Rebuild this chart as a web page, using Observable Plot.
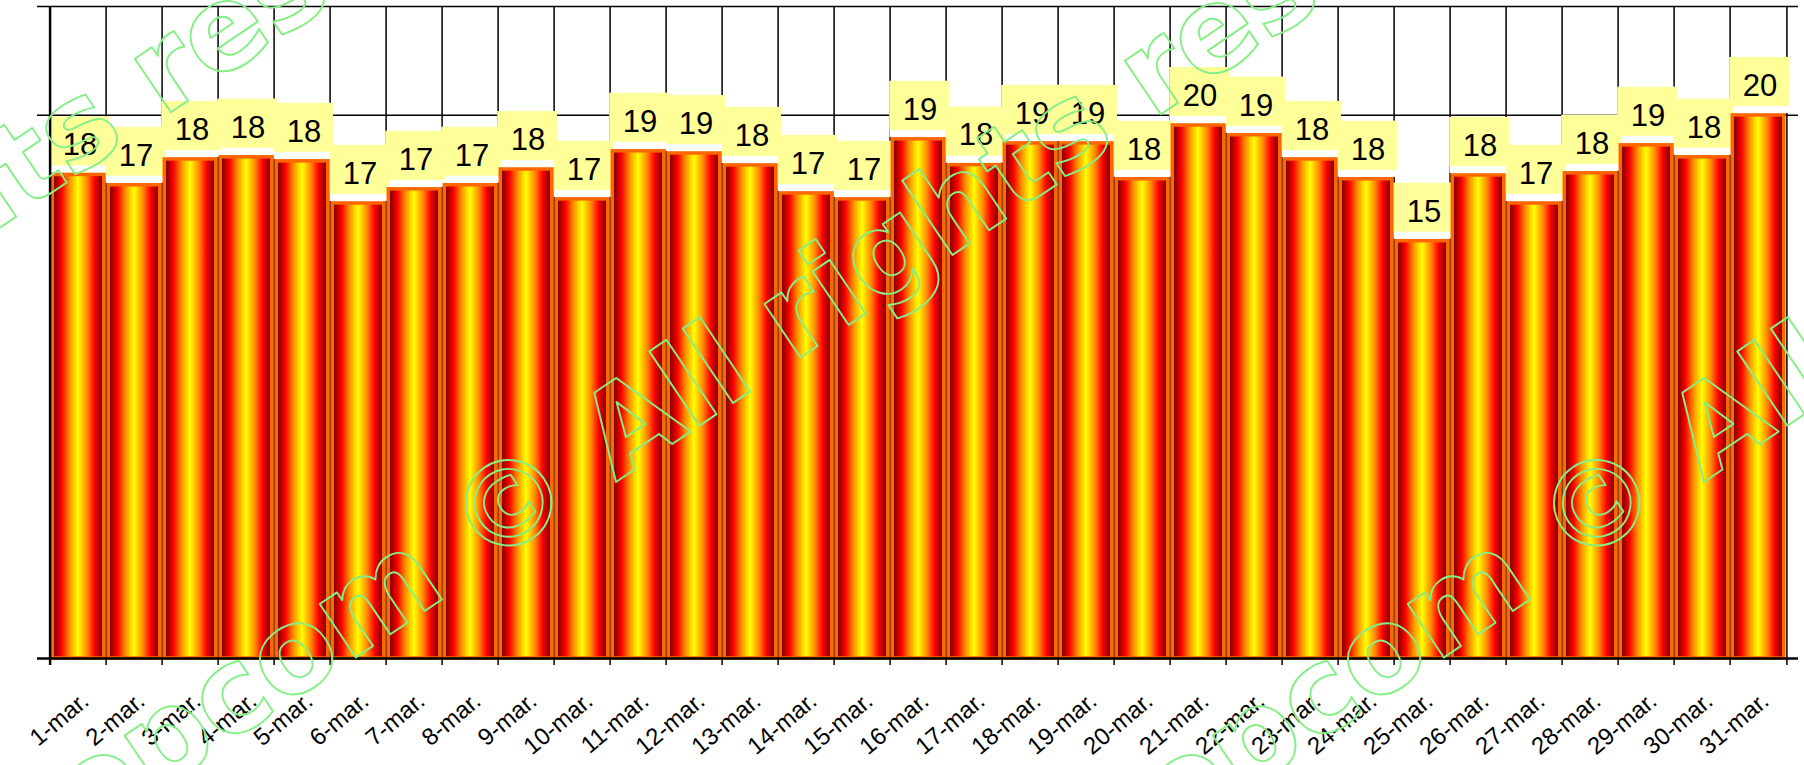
<!DOCTYPE html>
<html><head><meta charset="utf-8">
<script src="https://cdn.jsdelivr.net/npm/d3@7"></script>
<script src="https://cdn.jsdelivr.net/npm/@observablehq/plot@0.6"></script>
<style>html,body{margin:0;padding:0;background:#fff;overflow:hidden}</style>
</head><body><div id="chart"></div>
<script>
const days = ["1-mar.","2-mar.","3-mar.","4-mar.","5-mar.","6-mar.","7-mar.","8-mar.","9-mar.","10-mar.",
  "11-mar.","12-mar.","13-mar.","14-mar.","15-mar.","16-mar.","17-mar.","18-mar.","19-mar.","20-mar.",
  "21-mar.","22-mar.","23-mar.","24-mar.","25-mar.","26-mar.","27-mar.","28-mar.","29-mar.","30-mar.","31-mar."];
const temps = [17.80, 17.42, 18.37, 18.45, 18.30, 16.75, 17.27, 17.42, 18.00, 16.90,
  18.67, 18.59, 18.15, 17.12, 16.90, 19.11, 18.16, 18.96, 18.96, 17.64,
  19.62, 19.26, 18.37, 17.64, 15.36, 17.78, 16.75, 17.86, 18.89, 18.45, 19.99];
const labels = [18,17,18,18,18,17,17,17,18,17,19,19,18,17,17,19,18,19,19,18,20,19,18,18,15,18,17,18,19,18,20];
const yGrid = [20, 24];
const wmParts = ["opcom", "©", "All rights reserved"];

const data = days.map((d, i) => ({day: d, value: temps[i], label: labels[i]}));
const W = 1804, H = 765, mL = 37, mR = 6, mT = 6, mB = 107;
const bw = (W - mL - mR) / days.length;
const last = days[days.length - 1];

// watermark: rotated outline text, placed by the centre of its © sign (pixel layout)
const ang = 34 * Math.PI / 180;
const dir = [Math.cos(ang), -Math.sin(ang)];
const FS = 118;
const wmStyle = {frameAnchor: "top-left", lineAnchor: "middle", rotate: -34, fontSize: FS, fontWeight: "bold",
  fontFamily: "DejaVu Sans", fill: "none", stroke: "#86EE86", strokeWidth: 1.9};
function wm(cx, cy) {
  const ax = cx + 0.025 * FS, ay = cy + 0.037 * FS, g = 0.848 * FS;
  return [
    Plot.text([wmParts[0]], {...wmStyle, text: d => d, textAnchor: "end", dx: ax - g * dir[0] - mL, dy: ay - g * dir[1] - mT}),
    Plot.text([wmParts[1]], {...wmStyle, text: d => d, textAnchor: "middle", dx: ax - mL, dy: ay - mT}),
    Plot.text([wmParts[2]], {...wmStyle, text: d => d, textAnchor: "start", dx: ax + g * dir[0] - mL, dy: ay + g * dir[1] - mT})
  ];
}

const plot = Plot.plot({
  width: W, height: H,
  marginLeft: mL, marginRight: mR, marginTop: mT, marginBottom: mB,
  style: {fontFamily: "'Liberation Sans', Arial, sans-serif", background: "#fff", overflow: "hidden"},
  x: {type: "band", domain: days, padding: 0, axis: null},
  y: {domain: [0, 24], axis: null},
  marks: [
    Plot.ruleY(yGrid, {stroke: "#000", strokeWidth: 1.5}),
    Plot.ruleX(days, {x: d => d, dx: -bw / 2, y1: 0, y2: 24, insetTop: 7, stroke: "#000", strokeWidth: 1.5}),
    Plot.ruleX([last], {x: d => d, dx: bw / 2, y1: 0, y2: 24, insetTop: 7, stroke: "#000", strokeWidth: 1.5}),
    Plot.barY(data, {x: "day", y1: "value", y2: "value", fill: "#fff", insetTop: -58, insetBottom: 2, insetLeft: -0.5, insetRight: -3}),
    Plot.barY(data, {x: "day", y1: "value", y2: "value", fill: "#FFFF99", insetTop: -58, insetBottom: 9, insetLeft: -0.5, insetRight: -3}),
    Plot.barY(data, {x: "day", y: "value", fill: "url(#barGrad)", stroke: "#FF6600", strokeWidth: 3.5, insetLeft: 2.3, insetRight: 2.3}),
    Plot.ruleY([0], {stroke: "#000", strokeWidth: 2.5}),
    Plot.ruleX([days[0]], {x: d => d, dx: -bw / 2, y1: 0, y2: 24, insetTop: 7, stroke: "#000", strokeWidth: 2.5}),
    Plot.text(data, {x: "day", y: "value", text: "label", dy: -29.6, dx: 1.5, fontSize: 31, fill: "#000"}),
    Plot.text(days, {x: d => d, y: 0, text: d => d, rotate: -40, textAnchor: "end", dx: 7, dy: 39, fontSize: 24, fill: "#000"}),
    ...wm(508, 502),
    ...wm(1596, 502),
    ...wm(-482, 500)
  ]
});

const ns = "http://www.w3.org/2000/svg";
const defs = document.createElementNS(ns, "defs");
const grad = document.createElementNS(ns, "linearGradient");
grad.setAttribute("id", "barGrad");
grad.setAttribute("x1", "0"); grad.setAttribute("x2", "1");
grad.setAttribute("y1", "0"); grad.setAttribute("y2", "0");
[[0, "#6B0000"], [0.08, "#A80000"], [0.18, "#FF0000"], [0.33, "#FF8C00"], [0.5, "#FFFF00"],
 [0.67, "#FF8C00"], [0.82, "#FF0000"], [0.92, "#A80000"], [1, "#6B0000"]].forEach(([o, c]) => {
  const s = document.createElementNS(ns, "stop");
  s.setAttribute("offset", o); s.setAttribute("stop-color", c);
  grad.appendChild(s);
});
defs.appendChild(grad);
plot.insertBefore(defs, plot.firstChild);
plot.querySelectorAll("text").forEach(t => {
  if (wmParts.includes(t.textContent)) {
    t.setAttribute("font-weight", "bold");
    t.setAttribute("font-family", "DejaVu Sans");
  }
});
document.getElementById("chart").appendChild(plot);
</script>
</body></html>
